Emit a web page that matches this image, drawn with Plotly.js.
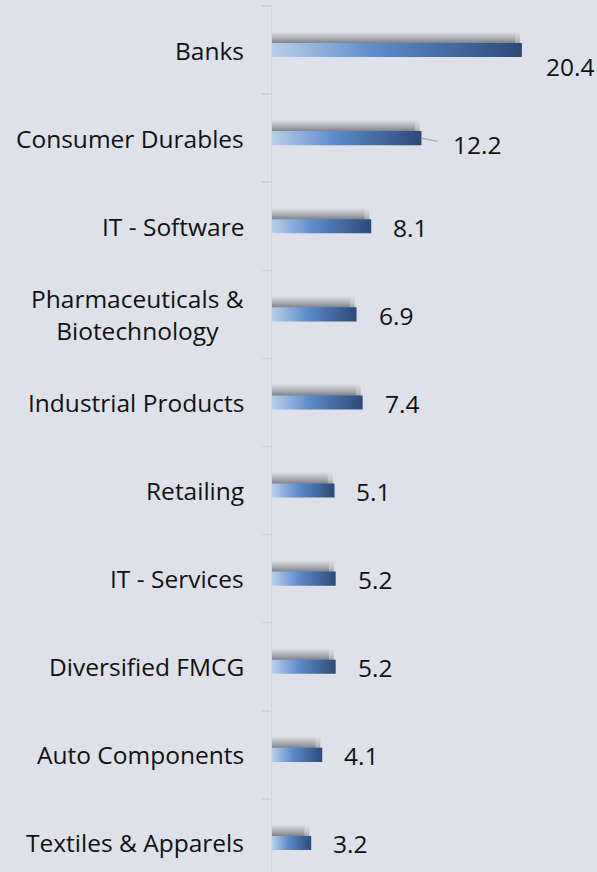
<!DOCTYPE html>
<html>
<head>
<meta charset="utf-8">
<script src="https://cdn.plot.ly/plotly-3.0.1.min.js"></script>
<style>
  html, body { margin: 0; padding: 0; background: #dee1e9; }
  #chart { width: 597px; height: 872px; }
</style>
</head>
<body>
<div id="chart"></div>
<script>
// ---- data ----
var categories = [
  "Banks",
  "Consumer Durables",
  "IT - Software",
  "Pharmaceuticals &<br>Biotechnology",
  "Industrial Products",
  "Retailing",
  "IT - Services",
  "Diversified FMCG",
  "Auto Components",
  "Textiles & Apparels"
];
var values = [20.4, 12.2, 8.1, 6.9, 7.4, 5.1, 5.2, 5.2, 4.1, 3.2];
var valueLabels = ["20.4", "12.2", "8.1", "6.9", "7.4", "5.1", "5.2", "5.2", "4.1", "3.2"];

// ---- style ----
var BG = "#dee1e9";
var FONT = "Open Sans, DejaVu Sans, sans-serif";
var FS = 24.5;
var HALF = 0.08;          // half bar thickness (category units)
var SH_TOP = 0.21, SH_BOT = 0.05; // shadow band above bar
var barScale = [[0, "#b9cfea"], [0.42, "#5b8bca"], [1, "#2c4a77"]];
var shadowScale = [[0, "rgba(80,80,80,0)"], [0.5, "rgba(80,80,80,0.2)"], [1, "rgba(70,70,70,0.5)"]];
// label offsets (px) for the value labels
var labelShift = {0: {x: 22, y: -16}, 1: {arrow: true}};

var traces = [];
var idx = categories.map(function (_, i) { return i; });

function shadowTrace(i, len) {
  return {
    type: "scatter", mode: "none", fill: "toself", hoverinfo: "skip",
    x: [0, len, len, 0, 0],
    y: [i - SH_TOP, i - SH_TOP, i - SH_BOT, i - SH_BOT, i - SH_TOP],
    fillcolor: "rgba(80,80,80,0.3)",
    fillgradient: {type: "vertical", colorscale: shadowScale, start: i - SH_TOP, stop: i - SH_BOT}
  };
}

idx.forEach(function (i) {
  var v = values[i];
  // soft shadow (two layers so its right end fades)
  traces.push(shadowTrace(i, Math.max(v - 0.15, 0.1)));
  traces.push(shadowTrace(i, Math.max(v - 0.55, 0.1)));
  // bar
  traces.push({
    type: "scatter", mode: "none", fill: "toself", hoverinfo: "skip",
    x: [0, v, v, 0, 0],
    y: [i - HALF, i - HALF, i + HALF, i + HALF, i - HALF],
    fillcolor: "#4f81bd",
    fillgradient: {type: "horizontal", colorscale: barScale, start: 0, stop: v}
  });
});

var annotations = [];
// category labels
idx.forEach(function (i) {
  annotations.push({
    xref: "paper", yref: "y", x: 0, y: i,
    text: categories[i], showarrow: false,
    xanchor: "right", yanchor: "middle", align: "center", xshift: -26,
    font: {family: FONT, size: FS, color: "#111111"}
  });
});
// value labels
idx.forEach(function (i) {
  var s = labelShift[i] || {};
  var a = {
    xref: "x", yref: "y", x: values[i], y: i,
    text: valueLabels[i],
    xanchor: "left", yanchor: "middle",
    font: {family: FONT, size: FS, color: "#111111"}
  };
  if (s.arrow) {
    a.showarrow = true; a.ax = 30; a.ay = 6; a.arrowhead = 0;
    a.arrowwidth = 1.2; a.arrowcolor = "#a9a9a9"; a.standoff = 0; a.startstandoff = 14;
  } else {
    a.showarrow = false;
    a.xshift = (s.x !== undefined ? s.x : 20);
    a.yshift = (s.y !== undefined ? s.y : -1);
  }
  annotations.push(a);
});

var boundaries = [];
for (var b = 0; b <= categories.length; b++) boundaries.push(b - 0.5);

var layout = {
  width: 597, height: 872,
  margin: {l: 272, r: 0, t: 6, b: 0, pad: 0},
  paper_bgcolor: BG, plot_bgcolor: BG,
  showlegend: false,
  xaxis: {range: [0, 26.53], visible: false, fixedrange: true},
  yaxis: {
    range: [9.33, -0.5], tickmode: "array", tickvals: boundaries,
    ticks: "outside", ticklen: 9, tickcolor: "#d2d2d2", tickwidth: 1.5,
    showticklabels: false, showline: true, linecolor: "#d2d2d2", linewidth: 1.5,
    showgrid: false, zeroline: false, fixedrange: true
  },
  annotations: annotations
};

Plotly.newPlot("chart", traces, layout, {displayModeBar: false, staticPlot: true});
</script>
</body>
</html>
